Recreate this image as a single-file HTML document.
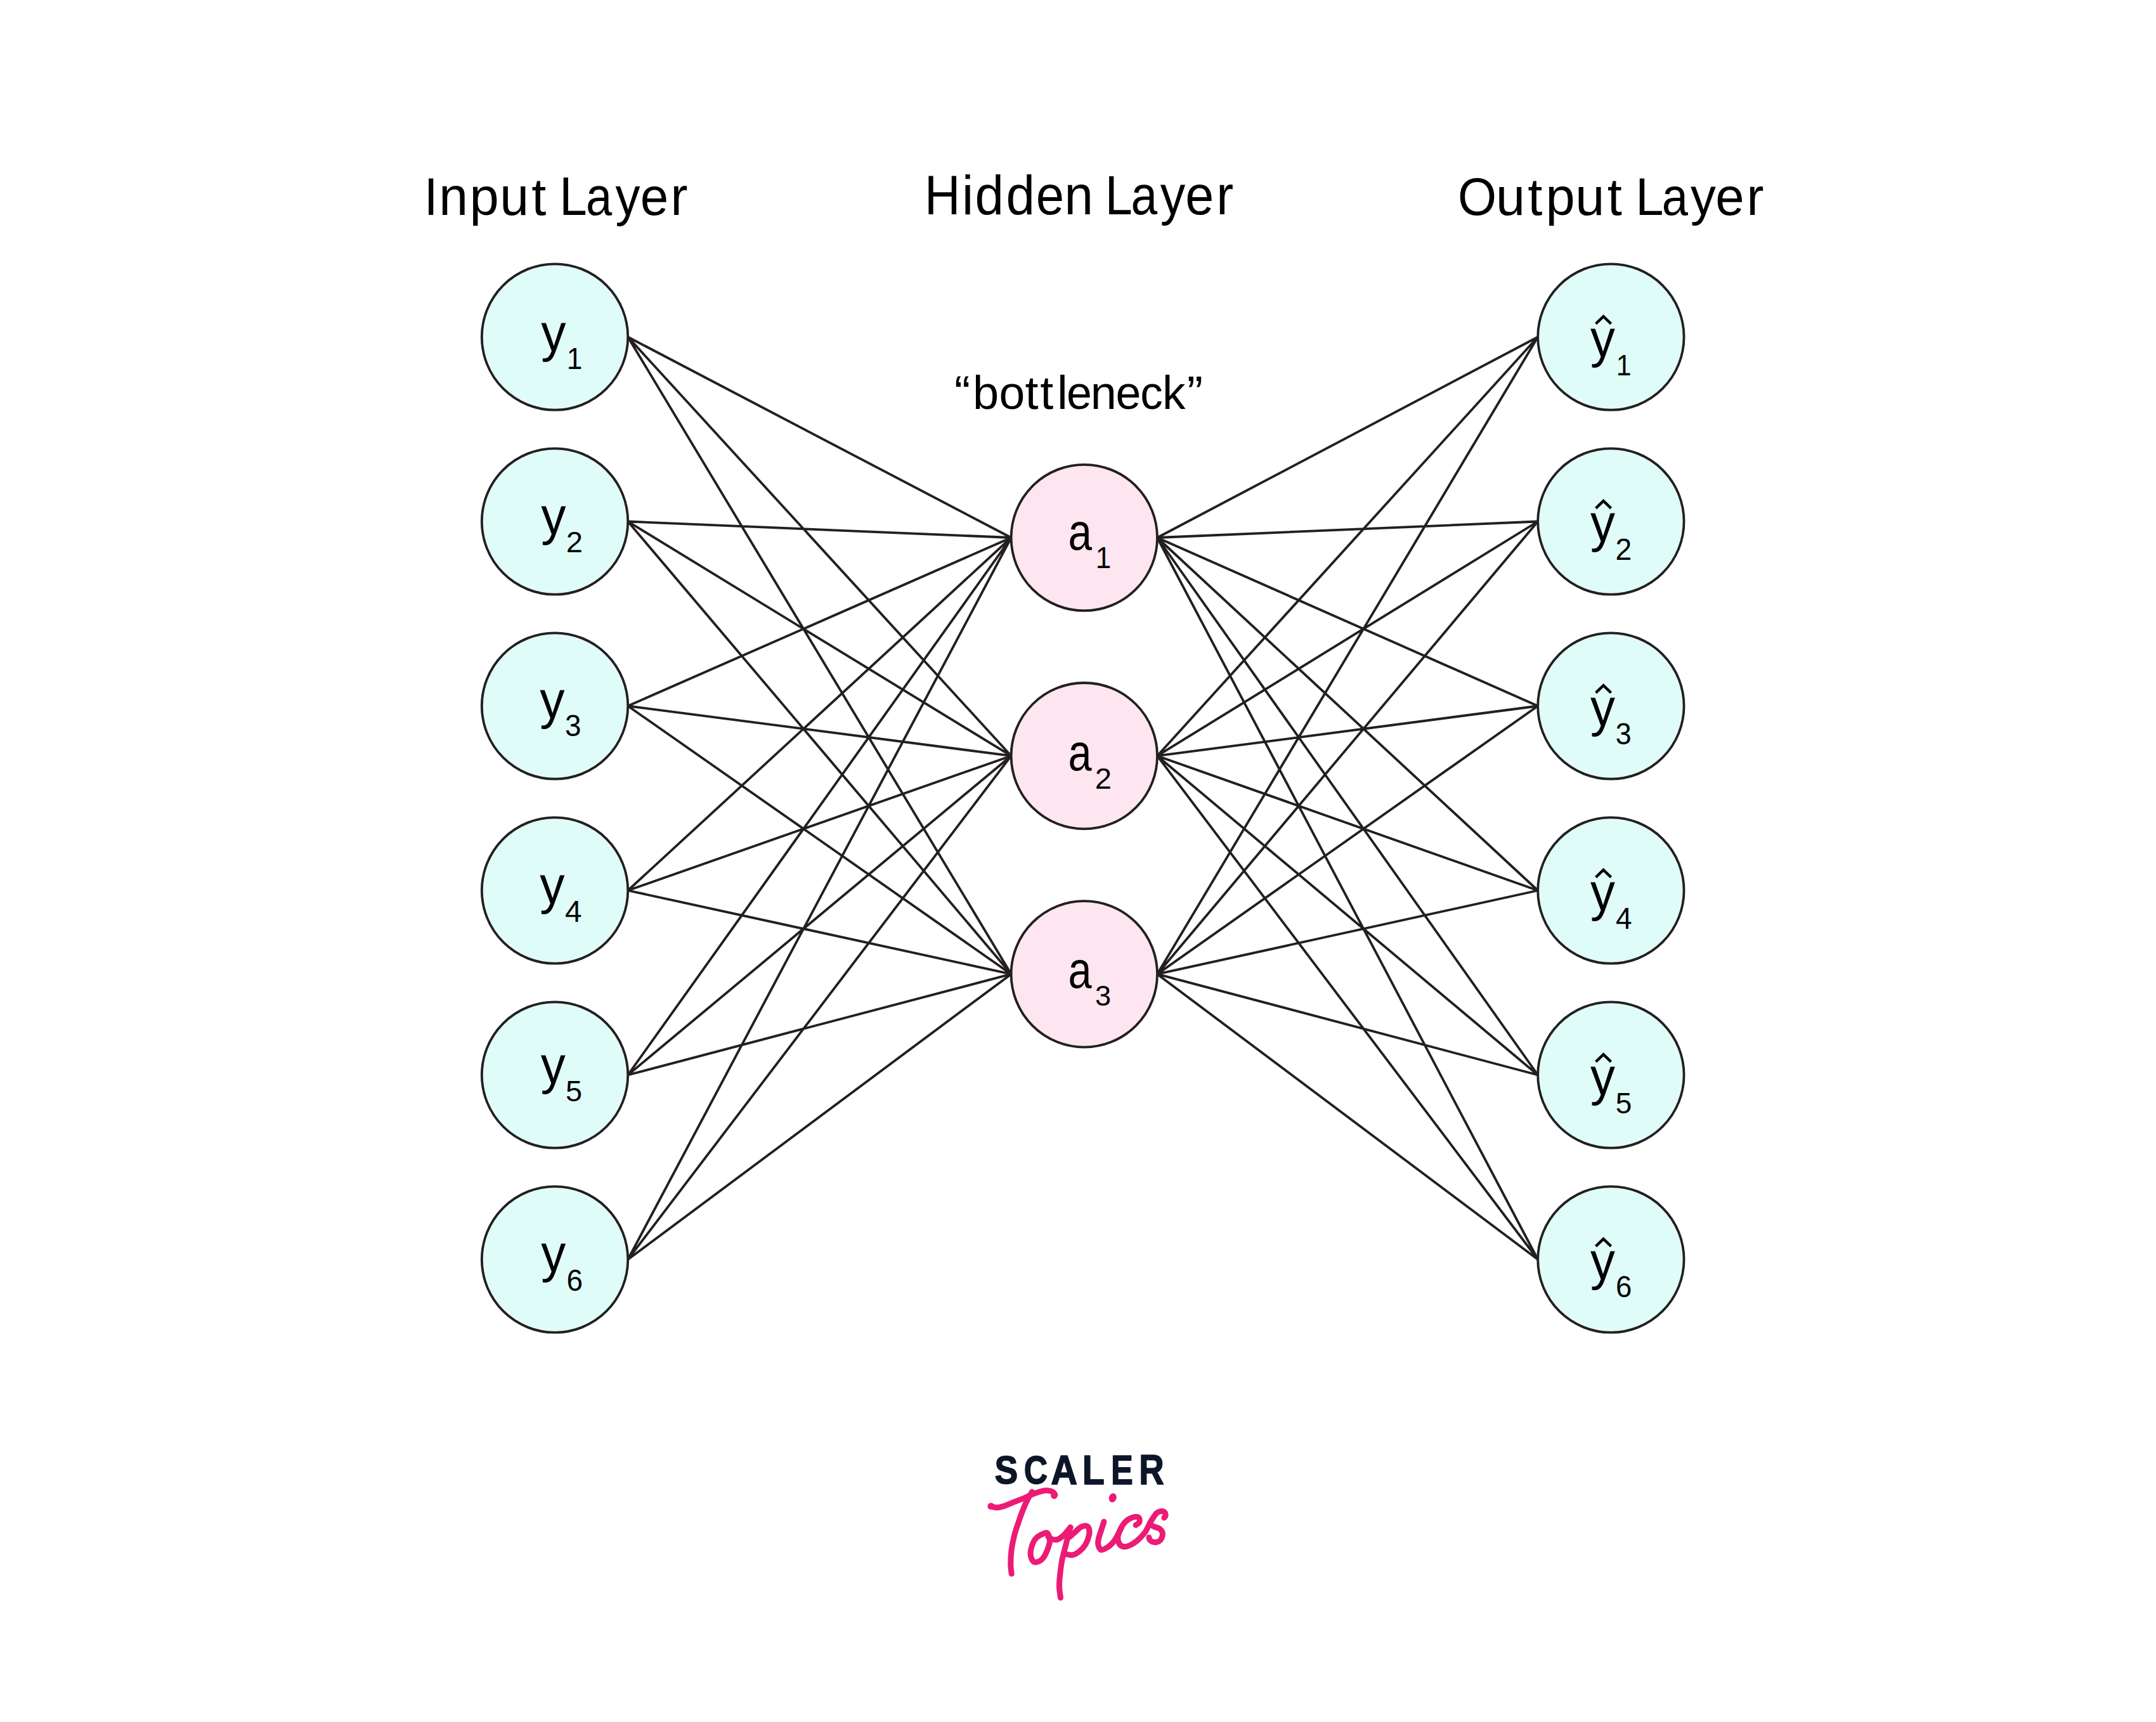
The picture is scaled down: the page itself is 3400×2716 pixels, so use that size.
<!DOCTYPE html>
<html><head><meta charset="utf-8"><style>
html,body{margin:0;padding:0;background:#fff;}
svg{display:block;}
text{font-family:"Liberation Sans",sans-serif;}
</style></head><body>
<svg width="3400" height="2716" viewBox="0 0 3400 2716">
<rect width="3400" height="2716" fill="#fff"/>
<path d="M990.2 531.5L1594.6 848.0M990.2 531.5L1594.6 1192.2M990.2 531.5L1594.6 1536.4M990.2 822.5L1594.6 848.0M990.2 822.5L1594.6 1192.2M990.2 822.5L1594.6 1536.4M990.2 1113.5L1594.6 848.0M990.2 1113.5L1594.6 1192.2M990.2 1113.5L1594.6 1536.4M990.2 1404.5L1594.6 848.0M990.2 1404.5L1594.6 1192.2M990.2 1404.5L1594.6 1536.4M990.2 1695.5L1594.6 848.0M990.2 1695.5L1594.6 1192.2M990.2 1695.5L1594.6 1536.4M990.2 1986.5L1594.6 848.0M990.2 1986.5L1594.6 1192.2M990.2 1986.5L1594.6 1536.4M1825.0 848.0L2425.2 531.5M1825.0 848.0L2425.2 822.5M1825.0 848.0L2425.2 1113.5M1825.0 848.0L2425.2 1404.5M1825.0 848.0L2425.2 1695.5M1825.0 848.0L2425.2 1986.5M1825.0 1192.2L2425.2 531.5M1825.0 1192.2L2425.2 822.5M1825.0 1192.2L2425.2 1113.5M1825.0 1192.2L2425.2 1404.5M1825.0 1192.2L2425.2 1695.5M1825.0 1192.2L2425.2 1986.5M1825.0 1536.4L2425.2 531.5M1825.0 1536.4L2425.2 822.5M1825.0 1536.4L2425.2 1113.5M1825.0 1536.4L2425.2 1404.5M1825.0 1536.4L2425.2 1695.5M1825.0 1536.4L2425.2 1986.5" stroke="#231F20" stroke-width="3.8" fill="none"/>
<circle cx="875.0" cy="531.5" r="115.2" fill="#E0FCF9" stroke="#231F20" stroke-width="3.8"/>
<circle cx="2540.4" cy="531.5" r="115.2" fill="#E0FCF9" stroke="#231F20" stroke-width="3.8"/>
<circle cx="875.0" cy="822.5" r="115.2" fill="#E0FCF9" stroke="#231F20" stroke-width="3.8"/>
<circle cx="2540.4" cy="822.5" r="115.2" fill="#E0FCF9" stroke="#231F20" stroke-width="3.8"/>
<circle cx="875.0" cy="1113.5" r="115.2" fill="#E0FCF9" stroke="#231F20" stroke-width="3.8"/>
<circle cx="2540.4" cy="1113.5" r="115.2" fill="#E0FCF9" stroke="#231F20" stroke-width="3.8"/>
<circle cx="875.0" cy="1404.5" r="115.2" fill="#E0FCF9" stroke="#231F20" stroke-width="3.8"/>
<circle cx="2540.4" cy="1404.5" r="115.2" fill="#E0FCF9" stroke="#231F20" stroke-width="3.8"/>
<circle cx="875.0" cy="1695.5" r="115.2" fill="#E0FCF9" stroke="#231F20" stroke-width="3.8"/>
<circle cx="2540.4" cy="1695.5" r="115.2" fill="#E0FCF9" stroke="#231F20" stroke-width="3.8"/>
<circle cx="875.0" cy="1986.5" r="115.2" fill="#E0FCF9" stroke="#231F20" stroke-width="3.8"/>
<circle cx="2540.4" cy="1986.5" r="115.2" fill="#E0FCF9" stroke="#231F20" stroke-width="3.8"/>
<circle cx="1709.8" cy="848.0" r="115.2" fill="#FDE6EF" stroke="#231F20" stroke-width="3.8"/>
<circle cx="1709.8" cy="1192.2" r="115.2" fill="#FDE6EF" stroke="#231F20" stroke-width="3.8"/>
<circle cx="1709.8" cy="1536.4" r="115.2" fill="#FDE6EF" stroke="#231F20" stroke-width="3.8"/>
<text transform="matrix(0.78272 0 0 0.84333 668.64 338.59)" font-size="100" fill="#000">I</text>
<text transform="matrix(0.82274 0 0 0.84333 692.27 338.59)" font-size="100" fill="#000">n</text>
<text transform="matrix(0.83146 0 0 0.84333 740.49 338.59)" font-size="100" fill="#000">p</text>
<text transform="matrix(0.82393 0 0 0.84333 788.19 338.59)" font-size="100" fill="#000">u</text>
<text transform="matrix(0.83146 0 0 0.84333 838.25 338.59)" font-size="100" fill="#000">t</text>
<text transform="matrix(0.78046 0 0 0.84333 882.29 338.59)" font-size="100" fill="#000">L</text>
<text transform="matrix(0.74123 0 0 0.84333 924.01 338.59)" font-size="100" fill="#000">a</text>
<text transform="matrix(0.77941 0 0 0.84333 970.61 338.59)" font-size="100" fill="#000">y</text>
<text transform="matrix(0.79897 0 0 0.84333 1009.78 338.59)" font-size="100" fill="#000">e</text>
<text transform="matrix(0.81149 0 0 0.84333 1057.58 338.59)" font-size="100" fill="#000">r</text>
<text transform="matrix(0.78121 0 0 0.86417 1458.08 338.35)" font-size="100" fill="#000">H</text>
<text transform="matrix(0.81761 0 0 0.86417 1516.96 338.35)" font-size="100" fill="#000">i</text>
<text transform="matrix(0.81761 0 0 0.86417 1537.38 338.35)" font-size="100" fill="#000">d</text>
<text transform="matrix(0.81761 0 0 0.86417 1586.53 338.35)" font-size="100" fill="#000">d</text>
<text transform="matrix(0.79781 0 0 0.86417 1633.76 338.35)" font-size="100" fill="#000">e</text>
<text transform="matrix(0.81761 0 0 0.86417 1678.41 338.35)" font-size="100" fill="#000">n</text>
<text transform="matrix(0.77393 0 0 0.86417 1742.79 338.35)" font-size="100" fill="#000">L</text>
<text transform="matrix(0.74907 0 0 0.86417 1783.53 338.35)" font-size="100" fill="#000">a</text>
<text transform="matrix(0.78997 0 0 0.86417 1829.65 338.35)" font-size="100" fill="#000">y</text>
<text transform="matrix(0.80984 0 0 0.86417 1869.18 338.35)" font-size="100" fill="#000">e</text>
<text transform="matrix(0.80876 0 0 0.86417 1918.23 338.35)" font-size="100" fill="#000">r</text>
<text transform="matrix(0.78456 0 0 0.84286 2299.05 338.80)" font-size="100" fill="#000">O</text>
<text transform="matrix(0.82758 0 0 0.84286 2358.93 338.80)" font-size="100" fill="#000">u</text>
<text transform="matrix(0.83164 0 0 0.84286 2409.25 338.80)" font-size="100" fill="#000">t</text>
<text transform="matrix(0.83138 0 0 0.84286 2437.39 338.80)" font-size="100" fill="#000">p</text>
<text transform="matrix(0.82758 0 0 0.84286 2484.33 338.80)" font-size="100" fill="#000">u</text>
<text transform="matrix(0.83164 0 0 0.84286 2534.70 338.80)" font-size="100" fill="#000">t</text>
<text transform="matrix(0.79478 0 0 0.84286 2579.16 338.80)" font-size="100" fill="#000">L</text>
<text transform="matrix(0.74241 0 0 0.84286 2620.73 338.80)" font-size="100" fill="#000">a</text>
<text transform="matrix(0.79672 0 0 0.84286 2665.88 338.80)" font-size="100" fill="#000">y</text>
<text transform="matrix(0.81786 0 0 0.84286 2705.30 338.80)" font-size="100" fill="#000">e</text>
<text transform="matrix(0.81158 0 0 0.84286 2754.48 338.80)" font-size="100" fill="#000">r</text>
<text transform="matrix(0.75616 0 0 0.74014 1505.07 645.06)" font-size="100" fill="#000">“</text>
<text transform="matrix(0.74013 0 0 0.74014 1534.04 645.06)" font-size="100" fill="#000">b</text>
<text transform="matrix(0.73244 0 0 0.74014 1575.52 645.06)" font-size="100" fill="#000">o</text>
<text transform="matrix(0.75616 0 0 0.74014 1616.47 645.06)" font-size="100" fill="#000">t</text>
<text transform="matrix(0.75616 0 0 0.74014 1640.32 645.06)" font-size="100" fill="#000">t</text>
<text transform="matrix(0.75616 0 0 0.74014 1666.88 645.06)" font-size="100" fill="#000">l</text>
<text transform="matrix(0.71798 0 0 0.74014 1682.03 645.06)" font-size="100" fill="#000">e</text>
<text transform="matrix(0.73786 0 0 0.74014 1719.72 645.06)" font-size="100" fill="#000">n</text>
<text transform="matrix(0.71684 0 0 0.74014 1759.61 645.06)" font-size="100" fill="#000">e</text>
<text transform="matrix(0.70918 0 0 0.74014 1798.26 645.06)" font-size="100" fill="#000">c</text>
<text transform="matrix(0.72933 0 0 0.74014 1832.90 645.06)" font-size="100" fill="#000">k</text>
<text transform="matrix(0.75616 0 0 0.74014 1871.73 645.06)" font-size="100" fill="#000">”</text>
<text transform="matrix(0.78571 0 0 0.83537 853.21 553.66)" font-size="100" font-weight="normal" fill="#000">y</text>
<text transform="matrix(0.44419 0 0 0.47681 893.67 581.80)" font-size="100" font-weight="normal" fill="#000">1</text>
<text transform="matrix(0.78571 0 0 0.83265 853.21 842.81)" font-size="100" font-weight="normal" fill="#000">y</text>
<text transform="matrix(0.47253 0 0 0.47000 892.84 871.30)" font-size="100" font-weight="normal" fill="#000">2</text>
<text transform="matrix(0.78571 0 0 0.82721 851.31 1133.13)" font-size="100" font-weight="normal" fill="#000">y</text>
<text transform="matrix(0.45745 0 0 0.47324 891.07 1161.43)" font-size="100" font-weight="normal" fill="#000">3</text>
<text transform="matrix(0.78571 0 0 0.83810 851.31 1424.70)" font-size="100" font-weight="normal" fill="#000">y</text>
<text transform="matrix(0.47600 0 0 0.48116 890.91 1454.00)" font-size="100" font-weight="normal" fill="#000">4</text>
<text transform="matrix(0.77959 0 0 0.83265 852.81 1709.41)" font-size="100" font-weight="normal" fill="#000">y</text>
<text transform="matrix(0.46947 0 0 0.46286 892.12 1737.34)" font-size="100" font-weight="normal" fill="#000">5</text>
<text transform="matrix(0.77959 0 0 0.83265 853.21 2006.41)" font-size="100" font-weight="normal" fill="#000">y</text>
<text transform="matrix(0.45870 0 0 0.47324 893.61 2035.53)" font-size="100" font-weight="normal" fill="#000">6</text>
<text transform="matrix(0.77959 0 0 0.82721 2507.91 563.33)" font-size="100" font-weight="normal" fill="#000">y</text>
<path d="M2516.60 510.60L2528.60 499.10L2540.60 510.60" stroke="#000" stroke-width="4.3" stroke-linejoin="miter" fill="none"/>
<text transform="matrix(0.43023 0 0 0.46957 2548.87 591.60)" font-size="100" font-weight="normal" fill="#000">1</text>
<text transform="matrix(0.77959 0 0 0.82721 2507.91 854.33)" font-size="100" font-weight="normal" fill="#000">y</text>
<path d="M2516.60 801.60L2528.60 790.10L2540.60 801.60" stroke="#000" stroke-width="4.3" stroke-linejoin="miter" fill="none"/>
<text transform="matrix(0.46374 0 0 0.48000 2547.58 882.60)" font-size="100" font-weight="normal" fill="#000">2</text>
<text transform="matrix(0.77959 0 0 0.82721 2507.91 1145.33)" font-size="100" font-weight="normal" fill="#000">y</text>
<path d="M2516.60 1092.60L2528.60 1081.10L2540.60 1092.60" stroke="#000" stroke-width="4.3" stroke-linejoin="miter" fill="none"/>
<text transform="matrix(0.44894 0 0 0.47887 2547.70 1173.52)" font-size="100" font-weight="normal" fill="#000">3</text>
<text transform="matrix(0.77959 0 0 0.82721 2507.91 1436.33)" font-size="100" font-weight="normal" fill="#000">y</text>
<path d="M2516.60 1383.60L2528.60 1372.10L2540.60 1383.60" stroke="#000" stroke-width="4.3" stroke-linejoin="miter" fill="none"/>
<text transform="matrix(0.46000 0 0 0.48116 2547.95 1464.60)" font-size="100" font-weight="normal" fill="#000">4</text>
<text transform="matrix(0.77959 0 0 0.82721 2507.91 1727.33)" font-size="100" font-weight="normal" fill="#000">y</text>
<path d="M2516.60 1674.60L2528.60 1663.10L2540.60 1674.60" stroke="#000" stroke-width="4.3" stroke-linejoin="miter" fill="none"/>
<text transform="matrix(0.46105 0 0 0.46857 2547.66 1755.53)" font-size="100" font-weight="normal" fill="#000">5</text>
<text transform="matrix(0.77959 0 0 0.82721 2507.91 2018.33)" font-size="100" font-weight="normal" fill="#000">y</text>
<path d="M2516.60 1965.60L2528.60 1954.10L2540.60 1965.60" stroke="#000" stroke-width="4.3" stroke-linejoin="miter" fill="none"/>
<text transform="matrix(0.45652 0 0 0.47606 2547.92 2046.42)" font-size="100" font-weight="normal" fill="#000">6</text>
<text transform="matrix(0.67451 0 0 0.81091 1684.56 866.79)" font-size="100" font-weight="normal" fill="#000">a</text>
<text transform="matrix(0.43953 0 0 0.47681 1727.70 895.90)" font-size="100" font-weight="normal" fill="#000">1</text>
<text transform="matrix(0.66667 0 0 0.80909 1684.60 1214.89)" font-size="100" font-weight="normal" fill="#000">a</text>
<text transform="matrix(0.47253 0 0 0.46429 1726.74 1243.70)" font-size="100" font-weight="normal" fill="#000">2</text>
<text transform="matrix(0.66667 0 0 0.81091 1684.60 1557.69)" font-size="100" font-weight="normal" fill="#000">a</text>
<text transform="matrix(0.45106 0 0 0.45211 1726.90 1585.55)" font-size="100" font-weight="normal" fill="#000">3</text>
<text transform="matrix(0.55167 0 0 0.63803 1568.55 2339.86)" font-size="100" font-weight="bold" fill="#0D1629" stroke="#0D1629" stroke-width="2.4" stroke-linejoin="round">S</text>
<text transform="matrix(0.51756 0 0 0.63803 1614.63 2339.86)" font-size="100" font-weight="bold" fill="#0D1629" stroke="#0D1629" stroke-width="2.4" stroke-linejoin="round">C</text>
<text transform="matrix(0.57910 0 0 0.65652 1657.35 2340.50)" font-size="100" font-weight="bold" fill="#0D1629" stroke="#0D1629" stroke-width="2.4" stroke-linejoin="round">A</text>
<text transform="matrix(0.57476 0 0 0.65652 1706.86 2340.50)" font-size="100" font-weight="bold" fill="#0D1629" stroke="#0D1629" stroke-width="2.4" stroke-linejoin="round">L</text>
<text transform="matrix(0.52212 0 0 0.65652 1752.11 2340.50)" font-size="100" font-weight="bold" fill="#0D1629" stroke="#0D1629" stroke-width="2.4" stroke-linejoin="round">E</text>
<text transform="matrix(0.54646 0 0 0.66131 1796.15 2340.50)" font-size="100" font-weight="bold" fill="#0D1629" stroke="#0D1629" stroke-width="2.4" stroke-linejoin="round">R</text>
<g fill="none" stroke="#EC1B75" stroke-width="9" stroke-linecap="round" stroke-linejoin="round">
<path d="M1562.80 2375.60C1564.28 2375.97 1568.37 2377.80 1571.70 2377.80C1575.03 2377.80 1578.17 2377.08 1582.80 2375.60C1587.43 2374.12 1593.93 2371.12 1599.50 2368.90C1605.07 2366.68 1611.10 2364.43 1616.20 2362.30C1621.30 2360.17 1625.47 2357.87 1630.10 2356.10C1634.73 2354.33 1640.28 2352.57 1644.00 2351.70C1647.72 2350.83 1649.80 2350.72 1652.40 2350.90C1655.00 2351.08 1657.75 2351.83 1659.60 2352.80C1661.45 2353.77 1662.98 2355.58 1663.50 2356.70C1664.02 2357.82 1662.83 2359.03 1662.70 2359.50"/>
<path d="M1627.50 2353.00C1626.08 2355.50 1621.75 2362.33 1619.00 2368.00C1616.25 2373.67 1613.08 2381.67 1611.00 2387.00C1608.92 2392.33 1608.33 2394.50 1606.50 2400.00C1604.67 2405.50 1601.92 2412.50 1600.00 2420.00C1598.08 2427.50 1596.03 2437.17 1595.00 2445.00C1593.97 2452.83 1593.77 2460.78 1593.80 2467.00C1593.83 2473.22 1594.97 2479.75 1595.20 2482.30"/>
<path d="M1653.00 2424.00C1654.17 2424.67 1657.50 2427.33 1660.00 2428.00C1662.50 2428.67 1665.17 2429.00 1668.00 2428.00C1670.83 2427.00 1674.33 2424.33 1677.00 2422.00C1679.67 2419.67 1682.17 2416.17 1684.00 2414.00C1685.83 2411.83 1687.33 2409.83 1688.00 2409.00"/>
<path d="M1688.00 2409.00C1687.42 2411.17 1685.67 2417.50 1684.50 2422.00C1683.33 2426.50 1682.58 2429.67 1681.00 2436.00C1679.42 2442.33 1676.58 2451.83 1675.00 2460.00C1673.42 2468.17 1672.25 2477.83 1671.50 2485.00C1670.75 2492.17 1670.33 2497.17 1670.50 2503.00C1670.67 2508.83 1672.17 2517.17 1672.50 2520.00"/>
<path d="M1686.40 2424.50C1688.10 2422.97 1693.62 2417.93 1696.60 2415.30C1699.58 2412.67 1701.73 2410.17 1704.30 2408.70C1706.87 2407.23 1709.88 2406.25 1712.00 2406.50C1714.12 2406.75 1716.07 2407.88 1717.00 2410.20C1717.93 2412.52 1718.43 2416.15 1717.60 2420.40C1716.77 2424.65 1714.65 2431.20 1712.00 2435.70C1709.35 2440.20 1705.12 2444.58 1701.70 2447.40C1698.28 2450.22 1694.73 2451.92 1691.50 2452.60C1688.27 2453.28 1683.83 2451.68 1682.30 2451.50"/>
<path d="M1740.90 2400.10C1740.10 2402.62 1737.50 2410.80 1736.10 2415.20C1734.70 2419.60 1733.22 2423.03 1732.50 2426.50C1731.78 2429.97 1731.17 2433.03 1731.80 2436.00C1732.43 2438.97 1733.67 2443.68 1736.30 2444.30C1738.93 2444.92 1744.13 2442.03 1747.60 2439.70C1751.07 2437.37 1754.57 2433.43 1757.10 2430.30C1759.63 2427.17 1760.92 2424.37 1762.80 2420.90C1764.68 2417.43 1767.47 2411.40 1768.40 2409.50"/>
<path d="M1791.10 2405.40C1792.03 2404.65 1795.88 2402.85 1796.70 2400.90C1797.52 2398.95 1797.38 2395.08 1796.00 2393.70C1794.62 2392.32 1791.42 2391.97 1788.40 2392.60C1785.38 2393.23 1780.92 2395.30 1777.90 2397.50C1774.88 2399.70 1772.52 2402.53 1770.30 2405.80C1768.08 2409.07 1765.85 2413.65 1764.60 2417.10C1763.35 2420.55 1762.60 2423.35 1762.80 2426.50C1763.00 2429.65 1764.23 2433.85 1765.80 2436.00C1767.37 2438.15 1769.57 2439.15 1772.20 2439.40C1774.83 2439.65 1778.13 2439.02 1781.60 2437.50C1785.07 2435.98 1789.10 2433.58 1793.00 2430.30C1796.90 2427.02 1802.17 2421.35 1805.00 2417.80C1807.83 2414.25 1808.42 2411.97 1810.00 2409.00C1811.58 2406.03 1813.08 2402.52 1814.50 2400.00C1815.92 2397.48 1816.92 2396.15 1818.50 2393.90C1820.08 2391.65 1821.87 2388.23 1824.00 2386.50C1826.13 2384.77 1829.13 2383.67 1831.30 2383.50C1833.47 2383.33 1835.88 2384.33 1837.00 2385.50C1838.12 2386.67 1838.20 2389.10 1838.00 2390.50C1837.80 2391.90 1836.17 2393.33 1835.80 2393.90"/>
<path d="M1814.50 2405.50C1815.58 2405.95 1818.67 2407.28 1821.00 2408.20C1823.33 2409.12 1826.53 2409.70 1828.50 2411.00C1830.47 2412.30 1832.02 2414.17 1832.80 2416.00C1833.58 2417.83 1833.67 2419.83 1833.20 2422.00C1832.73 2424.17 1831.53 2427.28 1830.00 2429.00C1828.47 2430.72 1826.08 2431.83 1824.00 2432.30C1821.92 2432.77 1819.33 2432.43 1817.50 2431.80C1815.67 2431.17 1813.93 2429.67 1813.00 2428.50C1812.07 2427.33 1812.08 2425.42 1811.90 2424.80"/>
<path d="M1648.00 2418.00C1644.67 2419.17 1636.73 2422.50 1633.00 2427.00C1629.27 2431.50 1626.60 2439.67 1625.60 2445.00C1624.60 2450.33 1625.60 2455.83 1627.00 2459.00C1628.40 2462.17 1630.83 2464.50 1634.00 2464.00C1637.17 2463.50 1642.45 2461.17 1646.00 2456.00C1649.55 2450.83 1654.13 2439.00 1655.30 2433.00C1656.47 2427.00 1654.22 2422.50 1653.00 2420.00C1651.78 2417.50 1651.33 2416.83 1648.00 2418.00Z"/>
</g>
<circle cx="1562.8" cy="2375.6" r="5.4" fill="#EC1B75"/>
<circle cx="1662.4" cy="2358.8" r="5.3" fill="#EC1B75"/>
<ellipse cx="1754.7" cy="2362.4" rx="5.9" ry="7.3" transform="rotate(20 1754.7 2362.4)" fill="#EC1B75"/>
</svg>
</body></html>
